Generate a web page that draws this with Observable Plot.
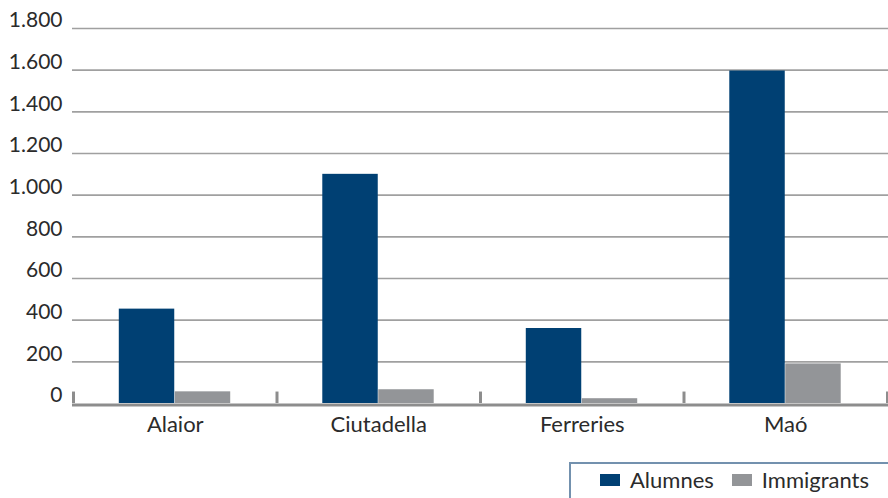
<!DOCTYPE html>
<html>
<head>
<meta charset="utf-8">
<script src="https://cdn.jsdelivr.net/npm/d3@7"></script>
<script src="https://cdn.jsdelivr.net/npm/@observablehq/plot@0.6"></script>
<style>
  html, body { margin: 0; padding: 0; background: #fff; }
  body { font-family: Lato, "Open Sans", sans-serif; color: #2b2b2b; width: 888px; height: 498px; overflow: hidden; }
  #chart svg { display: block; }
  .legend {
    margin-left: 569px; margin-top: 4px; width: 340px; height: 50px;
    border: 2px solid #7391ae; box-sizing: border-box;
    display: flex; align-items: flex-start; padding-top: 2px; padding-left: 29px;
    font-size: 22px; color: #2b2b2b;
  }
  .legend .item { display: flex; align-items: center; margin-right: 18px; }
  .legend .sw { width: 20px; height: 12px; margin-right: 10px; }
</style>
</head>
<body>
<div id="chart"></div>
<script>
const municipis = ["Alaior", "Ciutadella", "Ferreries", "Maó"];
const series = ["Alumnes", "Immigrants"];
const alumnes = [453, 1100, 360, 1596];
const immigrants = [56, 66, 23, 190];
const yTicks = [0, 200, 400, 600, 800, 1000, 1200, 1400, 1600, 1800];
const colors = ["#004073", "#939598"];

const barWidth = 0.275; // fraction of each municipality band
const idx = municipis.map((d, i) => i);
const boundaries = d3.range(municipis.length + 1).map(i => i - 0.5);

const rows = [];
municipis.forEach((m, i) => {
  rows.push({municipi: m, i, serie: series[0], value: alumnes[i], x1: i - barWidth, x2: i});
  rows.push({municipi: m, i, serie: series[1], value: immigrants[i], x1: i, x2: i + barWidth});
});

const fmt = d => d3.format(",")(d).replace(/,/g, ".");

const chart = Plot.plot({
  width: 888,
  height: 458,
  marginLeft: 73,
  marginRight: 1,
  marginTop: 28,
  marginBottom: 55,
  style: { fontFamily: "Lato, 'Open Sans', sans-serif", fontSize: "21px", color: "#2b2b2b" },
  x: { type: "linear", domain: [-0.5, municipis.length - 0.5], axis: null },
  y: { domain: [0, 1800], axis: null },
  color: { domain: series, range: colors },
  marks: [
    Plot.ruleY(yTicks.filter(d => d > 0), { stroke: "#a0a0a0", strokeWidth: 1.6, insetRight: -1, insetLeft: -1 }),
    Plot.rectY(rows, { x1: "x1", x2: "x2", y: "value", fill: "serie", insetRight: 0.5 }),
    Plot.ruleY([0], { stroke: "#8d8d8d", strokeWidth: 3, dy: 1.5, insetLeft: -1, insetRight: -1 }),
    Plot.ruleX(boundaries, { y1: 0, y2: 55, stroke: "#8d8d8d", strokeWidth: 3 }),
    Plot.axisY(yTicks, { tickSize: 0, tickPadding: 11, tickFormat: fmt, dy: -8, fontSize: 21, label: null }),
    Plot.axisX(idx, { tickSize: 0, tickPadding: 13, tickFormat: i => municipis[i], fontSize: 22, label: null })
  ]
});
document.getElementById("chart").append(chart);

const legend = document.createElement("div");
legend.className = "legend";
series.forEach((s, k) => {
  const item = document.createElement("div");
  item.className = "item";
  const sw = document.createElement("span");
  sw.className = "sw";
  sw.style.background = colors[k];
  const t = document.createElement("span");
  t.textContent = s;
  item.append(sw, t);
  legend.append(item);
});
document.getElementById("chart").append(legend);
</script>
</body>
</html>
